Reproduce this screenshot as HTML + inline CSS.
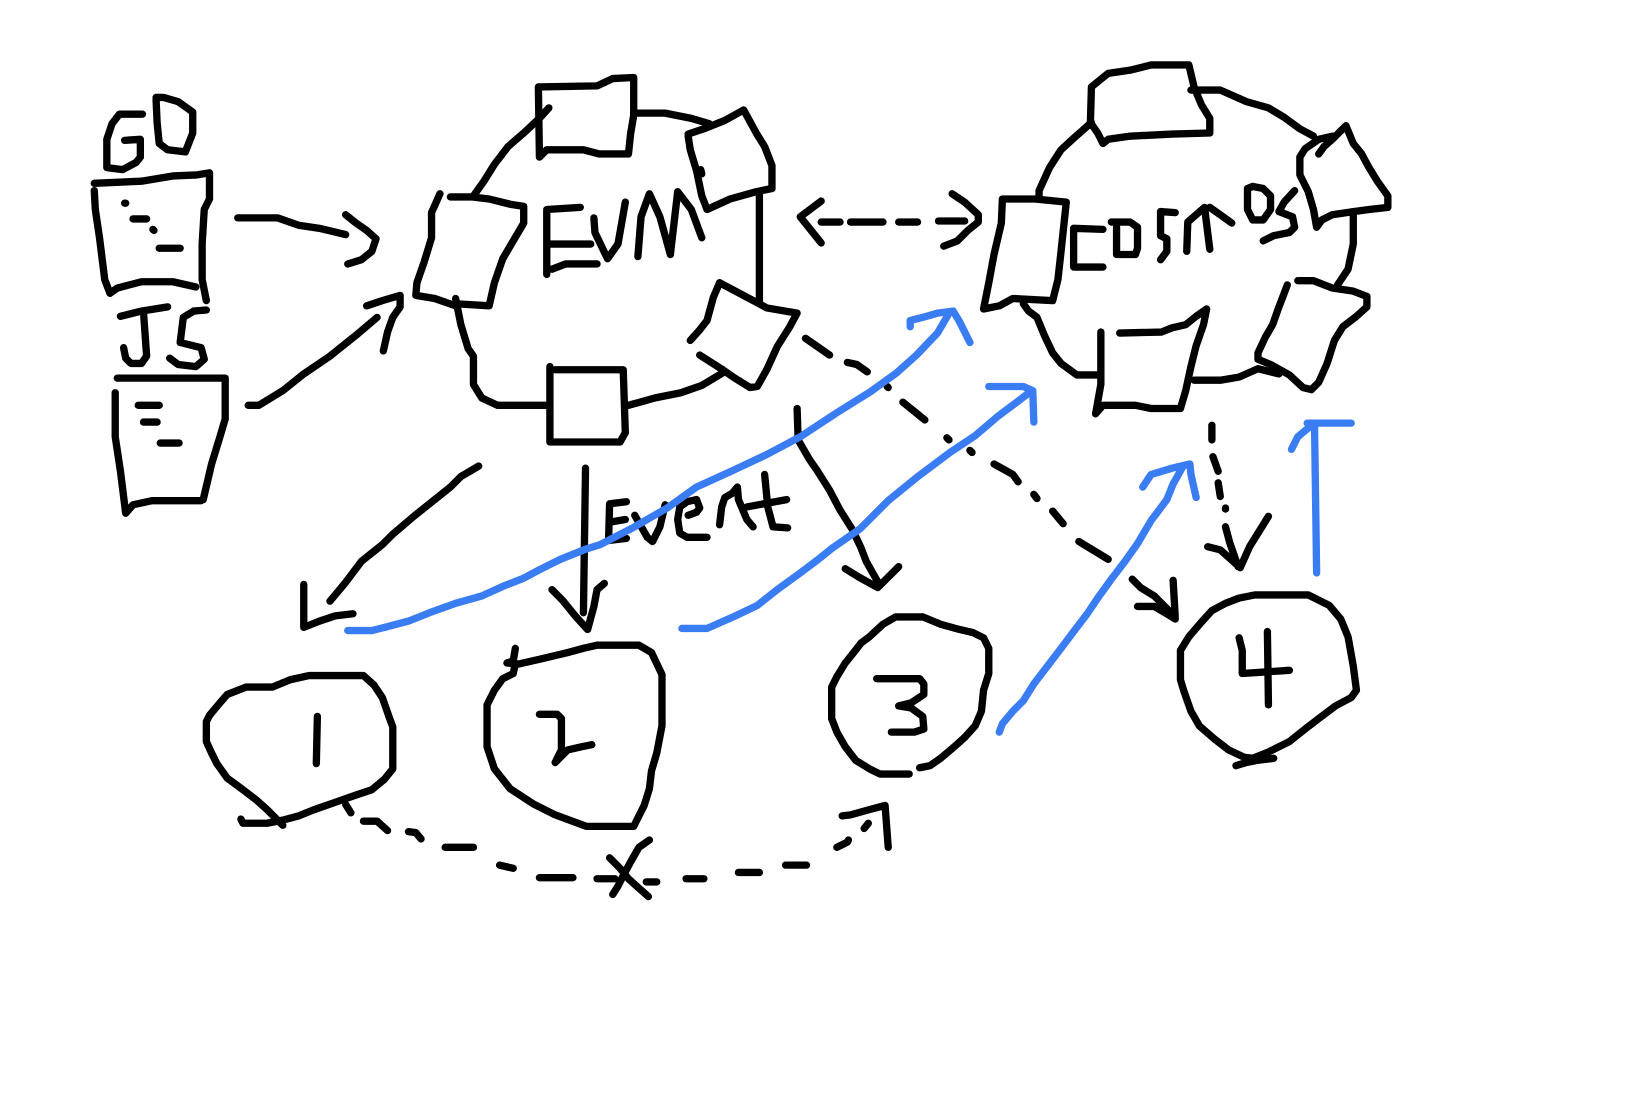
<!DOCTYPE html>
<html>
<head>
<meta charset="utf-8">
<style>
html,body{margin:0;padding:0;background:#fff;}
svg{display:block;}
</style>
</head>
<body>
<svg width="1634" height="1094" viewBox="0 0 1560 1044.5" preserveAspectRatio="none" xmlns="http://www.w3.org/2000/svg">
<rect x="0" y="0" width="1560" height="1045" fill="#fff"/>
<g fill="none" stroke="#000" stroke-width="7" stroke-linecap="round" stroke-linejoin="round">
<!-- GO -->
<path d="M136,109 L114,109 L107,118 L102,133 L102,160 L117,162 L130,155 L134,150 L134,133 L119,134"/>
<path d="M149,95 L150,117 L152,137 L160,143 L177,145 L184,127 L184,107 L170,97 L156,93 L149,93"/>
<!-- Go doc -->
<path d="M90,175 L135,173 L165,168 L188,167 L200,165 L200,190 L195,200 L193,233 L193,267 L197,287"/>
<path d="M90,182 L91,200 L95,227 L100,267 L105,280 L112,275 L135,269 L165,269 L187,274"/>
<path d="M119,194 L120,194 M127,209 L140,209 M146,219 L147,220 M152,237 L172,237"/>
<!-- JS -->
<path d="M115,302 L135,297 L160,293 M137,298 L140,340 L135,347 L125,347 L120,342 L118,332"/>
<path d="M197,296 L185,297 L175,303 L172,327 L192,332 L195,343 L187,350 L170,348 L162,342"/>
<!-- JS doc -->
<path d="M112,361 L215,361 L215,400 L210,417 L202,443 L194,477"/>
<path d="M110,375 L110,417 L115,450 L120,490 L127,482 L145,478 L192,478"/>
<path d="M132,387 L152,387 M137,403 L150,403 M153,423 L171,423"/>
<!-- arrows to EVM -->
<path d="M227,208 L265,208 L285,215 L305,218 L330,224"/>
<path d="M330,205 L340,213 L350,220 L359,228 L355,240 L345,248 L332,252"/>
<path d="M237,387 L247,387 L270,373 L290,357 L315,340 L340,320 L360,303"/>
<path d="M350,292 L365,287 L382,282 L382,293 L375,303 L370,317 L366,335"/>
<!-- EVM node -->
<path d="M514,83 L570,82 L585,75 L605,74 L605,110 L602,128 L600,147 L572,147 L557,143 L522,143 L515,150 L514,83"/>
<path d="M605,108 L635,108 L660,113 L677,118"/>
<path d="M524,103 L515,113 L500,127 L485,140 L472,157 L462,173 L452,187"/>
<path d="M657,128 L672,123 L692,115 L710,105 L722,127 L730,140 L737,158 L737,180 L722,183 L697,190 L675,200 L670,187 L665,163 L659,143 L657,130"/>
<path d="M669,162 L670,166"/>
<path d="M725,183 L725,288"/>
<path d="M430,188 L450,188 L467,190 L487,195 L500,197 L500,213 L490,230 L480,247 L472,270 L467,292 L435,290"/>
<path d="M420,185 L412,203 L412,227 L405,250 L398,270 L397,282 L415,285 L435,292"/>
<path d="M435,285 L440,310 L447,333 L452,340 L452,367 L460,380 L475,387 L525,387"/>
<path d="M525,350 L525,422 L592,422 L597,413 L595,353 L530,353"/>
<path d="M600,387 L625,380 L650,375 L670,368 L690,356"/>
<path d="M687,270 L723,289 L732,294 L761,299 L754,312 L742,331 L732,353 L723,369 L716,370 L700,360 L690,353 L668,339"/>
<path d="M687,270 L681,284 L675,306 L668,315 L659,325"/>
<!-- EVM text -->
<path d="M554,198 L522,200 L522,262 M522,233 L564,233 M527,257 L540,252 L570,252"/>
<path d="M567,208 L568,222 L580,247 L590,233 L597,193"/>
<path d="M609,245 L612,207 L620,185 L630,207 L640,243 L647,183 L660,200 L670,227"/>
<!-- double arrow -->
<path d="M784,192 L764,207 L784,232"/>
<path d="M784,212 L802,212 M812,212 L843,212 M858,212 L876,212 M896,211 L921,211"/>
<path d="M909,185 L921,193 L934,205 L934,212 L924,220 L914,230 L901,235"/>
<!-- Cosmos node -->
<path d="M1041,117 L1042,83 L1058,70 L1079,67 L1099,62 L1135,62 L1140,83 L1147,100 L1155,113 L1155,127 L1119,128 L1079,130 L1058,133 L1053,137 L1048,127 L1041,117"/>
<path d="M1137,86 L1165,86 L1190,97 L1211,103 L1226,112 L1241,123 L1254,130"/>
<path d="M1259,147 L1264,140 L1272,133 L1285,120 L1292,137 L1300,147 L1307,160 L1315,173 L1325,187 L1325,198 L1307,200 L1292,202 L1272,205 L1262,210 L1257,217 L1254,200 L1249,183 L1241,167 L1241,150 L1246,142 L1259,133 L1272,130"/>
<path d="M1292,202 L1292,233 L1287,257 L1277,272"/>
<path d="M1239,268 L1254,268 L1272,275 L1292,278 L1305,283 L1305,293 L1295,302 L1282,312 L1274,325 L1267,347 L1259,365 L1252,372 L1244,370 L1231,358 L1213,348 L1201,343 L1201,337 L1208,322 L1215,310 L1221,293 L1226,280 L1229,272"/>
<path d="M1221,357 L1201,352 L1183,360 L1165,363 L1140,363"/>
<path d="M1051,317 L1051,367 L1046,395"/>
<path d="M1046,395 L1053,387 L1084,387 L1099,390 L1127,390 L1132,373 L1137,350 L1142,330 L1149,310 L1152,295 L1142,302 L1132,310 L1119,313 L1109,317 L1069,318"/>
<path d="M977,290 L982,297 L990,303 L997,320 L1005,337 L1013,347 L1028,358 L1051,358"/>
<path d="M957,190 L988,190 L1018,193 L1013,240 L1010,267 L1005,287 L967,285 L954,292 L939,295 L944,270 L949,243 L956,213 L957,190"/>
<path d="M992,190 L992,182 L1002,160 L1013,143 L1025,132 L1042,117"/>
<!-- COSMOS text -->
<path d="M1053,219 L1025,218 L1025,255 L1053,255"/>
<path d="M1061,212 L1079,212 L1086,217 L1086,237 L1084,243 L1066,243 L1066,217"/>
<path d="M1122,203 L1108,202 L1108,225 L1114,228 L1114,240 L1108,248"/>
<path d="M1133,240 L1134,212 L1150,198 L1155,238 M1155,198 L1165,205 L1176,213"/>
<path d="M1196,178 L1191,180 L1191,200 L1196,210 L1206,210 L1213,200 L1213,187 L1206,180 L1196,178"/>
<path d="M1236,182 L1226,193 L1221,202 L1234,207 L1236,217 L1231,222 L1216,225 L1206,230"/>
<!-- cosmos dashed down arrow -->
<path d="M1157,406 L1157,420 M1158,436 L1163,450 M1163,461 L1165,474 M1170,485 L1170,486"/>
<path d="M1153,522 L1165,525 L1174,533 L1184,542 L1193,522 L1211,493 M1170,503 L1174,518 L1182,541"/>
<!-- dashed EVM -> 4 -->
<path d="M769,323 L792,339 M809,346 L818,348 L828,355 M847,369 L848,370 M862,384 L883,401 M904,418 L906,420 M926,430 L928,432 M949,443 L967,453 L972,460 M987,472 L990,476 M1005,488 L1015,500 M1030,517 L1058,534"/>
<path d="M1081,553 L1089,561 L1102,569 L1114,581 L1122,589 M1086,579 L1102,579 L1114,586 L1122,591 M1120,554 L1122,589"/>
<!-- Event arrow -->
<path d="M559,447 L557,585"/>
<path d="M527,563 L537,573 L550,589 L561,601 L567,579 L570,563 L577,557"/>
<!-- Event text -->
<path d="M598,479 L582,481 L581,516 L598,514 M585,498 L597,496"/>
<path d="M606,492 L618,513 L623,517 L630,503 L635,482"/>
<path d="M657,492 L665,489 L668,485 L665,477 L656,479 L649,484 L647,496 L649,509 L656,513 L675,513"/>
<path d="M687,501 L689,484 L692,475 L699,471 L704,465 L705,477 L713,496 L719,503"/>
<path d="M730,453 L733,484 L738,503 L752,504 M713,484 L751,477"/>
<!-- arrow to 1 -->
<path d="M457,445 L440,455 L430,465 L415,477 L395,493 L375,510 L365,520 L345,536 L330,556 L315,574"/>
<path d="M290,558 L290,599 L305,593 L320,588 L337,586"/>
<!-- arrow to 3 -->
<path d="M761,390 L762,420 L773,439 L780,449 L792,468 L802,487 L814,506 L822,523 L827,536 L840,559"/>
<path d="M807,543 L820,551 L838,561 L848,551 L858,541"/>
<!-- circle 1 -->
<path d="M200,683 L210,671 L217,663 L235,656 L260,656 L277,649 L295,645 L347,645 L357,654 L365,666 L372,686 L375,694 L375,734 L367,744 L355,754 L340,759 L320,766 L300,773 L285,779 L270,783 L255,786 L232,786 L230,782"/>
<path d="M200,683 L197,689 L197,708 L202,719 L207,729 L217,743 L232,754 L245,764 L255,773 L265,783 L270,788"/>
<path d="M303,684 L302,729"/>
<!-- dotted 1 -> 3 -->
<path d="M330,768 L335,776 M347,784 L360,784 L370,793 M390,794 L397,795 L402,801 M425,809 L452,809 M477,826 L490,829 M515,838 L547,838 M570,839 L587,839 M617,842 L627,842 M655,839 L672,839 M705,833 L725,833 M750,826 L770,826 M799,809 L809,804 L810,802 M825,791 L829,786"/>
<path d="M804,779 L812,778 L830,773 L845,769 L848,809"/>
<path d="M620,802 L610,809 L602,823 L595,836 L590,846 L585,854 M582,819 L592,829 L600,839 L610,848 L619,856"/>
<!-- circle 2 -->
<path d="M492,619 L490,631 L484,633 L495,634 L517,629 L542,623 L557,619 L570,616 L610,616 L622,623 L632,644 L632,693 L627,719 L622,736 L620,753 L615,769 L610,779 L605,789 L560,789 L530,778 L510,768 L487,753 L472,734 L467,719 L465,713 L465,673 L472,659 L480,648 L490,643 L492,633"/>
<path d="M515,682 L532,682 L536,686 L536,716 L530,728 L542,716 L555,713 L565,711"/>
<!-- circle 3 -->
<path d="M881,589 L898,596 L916,601 L929,604 L939,609 L944,619 L944,643 L939,659 L937,679 L931,693 L921,704 L911,713 L898,724 L888,731 L878,733"/>
<path d="M868,739 L840,739 L830,734 L817,726 L807,713 L799,699 L794,686 L794,656 L799,646 L807,633 L815,623 L822,614 L830,608 L843,596 L855,589 L881,589"/>
<path d="M837,648 L878,648 L882,653 L882,663 L870,671 L858,674 L870,676 L881,684 L882,696 L873,699 L851,699"/>
<!-- circle 4 -->
<path d="M1198,568 L1249,568 L1269,578 L1280,591 L1287,608 L1292,636 L1295,659 L1290,666 L1275,674 L1259,686 L1246,696 L1231,708 L1211,718 L1196,724 L1188,723 L1173,716 L1160,706 L1145,693 L1137,679 L1130,659 L1127,649 L1127,621 L1135,608 L1147,594 L1157,583 L1170,576 L1183,571 L1198,568"/>
<path d="M1180,731 L1190,728 L1200,726 L1216,724"/>
<path d="M1183,609 L1186,621 L1186,643 L1231,640 M1210,603 L1211,673"/>
</g>
<g fill="none" stroke="#3a7cf2" stroke-width="7" stroke-linecap="round" stroke-linejoin="round">
<path d="M332,602 L355,602 L367,599 L390,593 L410,585 L435,576 L460,569 L482,559 L500,552 L515,544 L535,534 L560,524 L573,520 L604,504 L637,485 L665,465 L700,449 L732,434 L764,417 L799,394 L831,374 L856,356 L875,339 L895,318 L905,301"/>
<path d="M869,312 L869,306 L881,303 L895,299 L910,297 L916,307 L921,317 L926,327"/>
<path d="M651,600 L675,600 L700,589 L723,578 L742,563 L764,547 L780,535 L795,523 L821,505 L848,478 L875,456 L907,432 L931,416 L952,398 L972,383 L985,373"/>
<path d="M944,369 L977,369 L986,373 L987,403"/>
<path d="M954,699 L957,691 L967,679 L977,669 L987,653 L1000,636 L1013,619 L1025,603 L1038,586 L1048,571 L1061,553 L1074,536 L1086,519 L1099,497 L1114,477 L1120,462 L1129,446"/>
<path d="M1091,465 L1099,453 L1119,447 L1136,443 L1137,453 L1142,475"/>
<path d="M1257,547 L1255,406 M1248,404 L1290,404 M1251,407 L1239,417 L1233,429"/>
</g>
</svg>
</body>
</html>
